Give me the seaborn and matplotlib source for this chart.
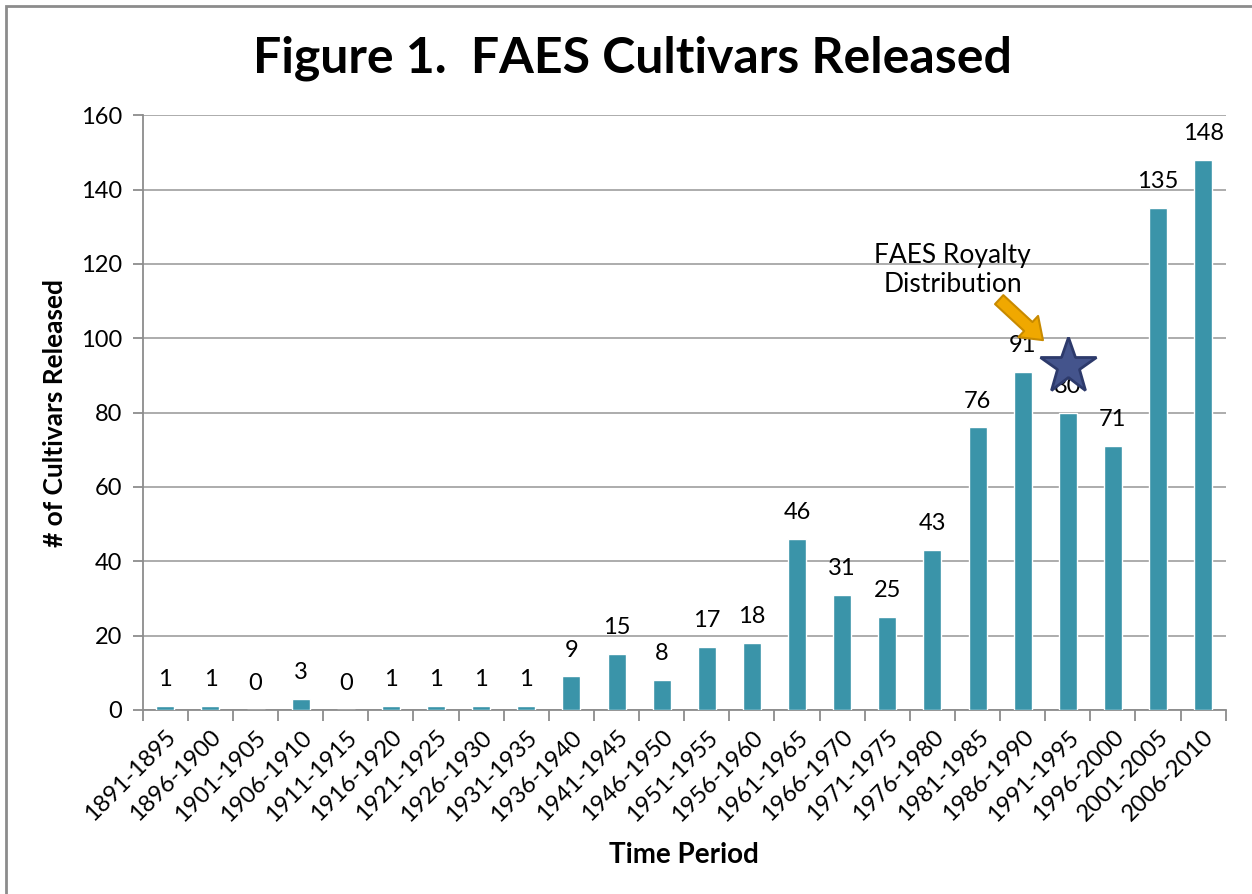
import matplotlib.pyplot as plt
import seaborn as sns
import pandas as pd
from matplotlib.patches import Rectangle

periods = ['1891-1895', '1896-1900', '1901-1905', '1906-1910', '1911-1915',
           '1916-1920', '1921-1925', '1926-1930', '1931-1935', '1936-1940',
           '1941-1945', '1946-1950', '1951-1955', '1956-1960', '1961-1965',
           '1966-1970', '1971-1975', '1976-1980', '1981-1985', '1986-1990',
           '1991-1995', '1996-2000', '2001-2005', '2006-2010']
released = [1, 1, 0, 3, 0, 1, 1, 1, 1, 9, 15, 8, 17, 18, 46, 31, 25, 43,
            76, 91, 80, 71, 135, 148]

royalty_period = '1991-1995'
royalty_text = 'FAES Royalty\nDistribution'

df = pd.DataFrame({'Time Period': periods, 'Released': released})

sns.set_style("white")
plt.rcParams['font.family'] = ['Lato', 'DejaVu Sans']
plt.rcParams['text.color'] = 'black'
plt.rcParams['axes.labelcolor'] = 'black'
plt.rcParams['xtick.labelcolor'] = 'black'
plt.rcParams['ytick.labelcolor'] = 'black'

fig = plt.figure(figsize=(12.52, 8.94), dpi=100)
ax = fig.add_axes([0.114, 0.206, 0.865, 0.665])

sns.barplot(data=df, x='Time Period', y='Released', color='#3a94a9',
            width=0.4, saturation=1, ax=ax, zorder=3)

ax.set_ylim(0, 160)
ax.set_yticks(range(0, 161, 20))
ax.set_xlim(-0.5, len(periods) - 0.5)
ax.yaxis.grid(True, color='#a6a6a6', linewidth=1.3, zorder=0)
ax.xaxis.grid(False)
for s in ['top', 'right']:
    ax.spines[s].set_visible(False)
for s in ['left', 'bottom']:
    ax.spines[s].set_color('#8c8c8c')
    ax.spines[s].set_linewidth(1.3)

ax.tick_params(axis='y', direction='out', length=7, width=1.3, color='#8c8c8c',
               labelsize=17, pad=8, left=True, labelcolor='black')
ax.tick_params(axis='x', which='major', length=0, labelsize=17, pad=12,
               labelcolor='black')
ax.set_xticks([i - 0.5 for i in range(len(periods) + 1)], minor=True)
ax.tick_params(axis='x', which='minor', direction='out', length=8, width=1.3,
               color='#8c8c8c', bottom=True)
plt.setp(ax.get_xticklabels(), rotation=45, ha='right', rotation_mode='anchor')

for i, v in enumerate(released):
    ax.annotate(str(v), (i, v), xytext=(0, 19), textcoords='offset points',
                ha='center', va='center', fontsize=17, zorder=4, color='black')

ax.set_xlabel('Time Period', fontsize=20, fontweight='bold', labelpad=12,
              color='black')
ax.set_ylabel('# of Cultivars Released', fontsize=19, fontweight='bold',
              labelpad=10, color='black')

fig.suptitle('Figure 1.  FAES Cultivars Released', fontsize=36, fontweight='bold',
             y=0.96, x=0.505, color='black')

# royalty annotation
ri = periods.index(royalty_period)
ax.text(ri - 2.55, 118.5, royalty_text, ha='center', va='center', fontsize=19,
        zorder=5, linespacing=1.2, color='black')
ax.annotate('', xy=(ri - 0.55, 99.5), xytext=(ri - 1.52, 110.4),
            arrowprops=dict(arrowstyle='simple,head_length=0.9,head_width=1.3,tail_width=0.55',
                            mutation_scale=16, facecolor='#f0a800',
                            edgecolor='#c88a00', linewidth=1.5,
                            shrinkA=0, shrinkB=0),
            zorder=6)
ax.plot([ri], [92.5], marker='*', markersize=42, markerfacecolor='#44548c',
        markeredgecolor='#2d3a6b', markeredgewidth=2, zorder=7, clip_on=False)

# figure frame (top and left edges visible)
fig.add_artist(Rectangle((6 / 1252, -0.1), 1.2, 1.1 - 6 / 894,
                         transform=fig.transFigure, fill=False,
                         edgecolor='#8c8c8c', linewidth=2))

fig.savefig('out.png', dpi=100)
